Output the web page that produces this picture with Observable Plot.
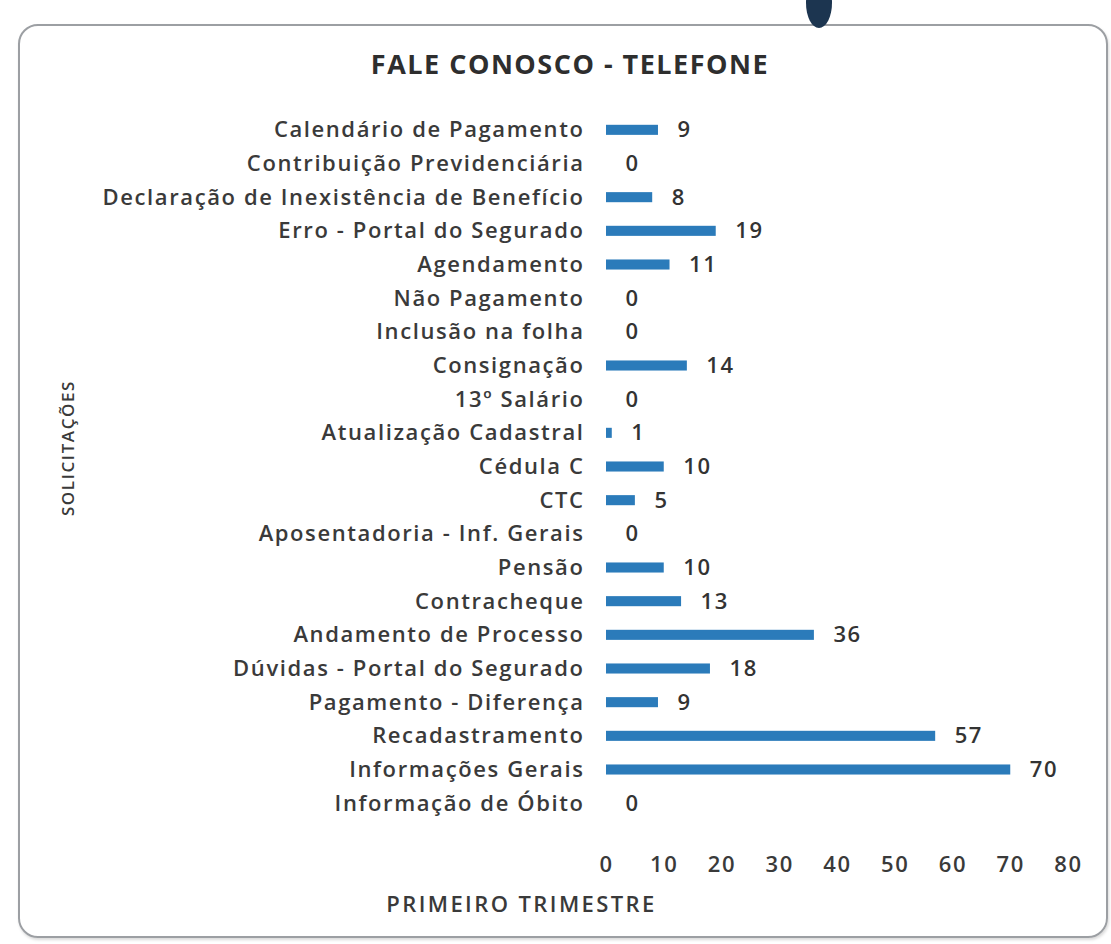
<!DOCTYPE html>
<html>
<head>
<meta charset="utf-8">
<script src="https://cdn.jsdelivr.net/npm/d3@7"></script>
<script src="https://cdn.jsdelivr.net/npm/@observablehq/plot@0.6"></script>
<style>
  html, body { margin: 0; padding: 0; background: #fff; }
  body { width: 1111px; height: 944px; position: relative; overflow: hidden; font-family: "Open Sans", sans-serif; }
  #frame { position: absolute; left: 18px; top: 24px; width: 1086px; height: 910px; border: 2px solid #9c9fa3; border-radius: 20px; box-shadow: 1px 2px 3px rgba(0,0,0,0.15); }
  #logo { position: absolute; left: 806px; top: -22px; width: 26px; height: 50px; background: #1c3550; border-radius: 50%; }
  #title { position: absolute; left: 0; width: 1140px; top: 47px; text-align: center; font-size: 27px; font-weight: bold; color: #2e2e2e; line-height: 34px; letter-spacing: 1.5px; }
  #chart { position: absolute; left: 0; top: 95px; }
  #chart svg text { letter-spacing: 1.6px; font-weight: 600; }
  #chart svg text.xtitle { letter-spacing: 2.4px; }
</style>
</head>
<body>
<div id="frame"></div>
<div id="logo"></div>
<div id="title">FALE CONOSCO - TELEFONE</div>
<div id="chart"></div>
<script>
const categories = [
  "Calendário de Pagamento",
  "Contribuição Previdenciária",
  "Declaração de Inexistência de Benefício",
  "Erro - Portal do Segurado",
  "Agendamento",
  "Não Pagamento",
  "Inclusão na folha",
  "Consignação",
  "13º Salário",
  "Atualização Cadastral",
  "Cédula C",
  "CTC",
  "Aposentadoria - Inf. Gerais",
  "Pensão",
  "Contracheque",
  "Andamento de Processo",
  "Dúvidas - Portal do Segurado",
  "Pagamento - Diferença",
  "Recadastramento",
  "Informações Gerais",
  "Informação de Óbito"
];
const values = [9, 0, 8, 19, 11, 0, 0, 14, 0, 1, 10, 5, 0, 10, 13, 36, 18, 9, 57, 70, 0];
const xTicks = [0, 10, 20, 30, 40, 50, 60, 70, 80];
const xTitle = "PRIMEIRO TRIMESTRE";
const yTitle = "SOLICITAÇÕES";

const data = categories.map((c, i) => ({categoria: c, valor: values[i]}));

const chart = Plot.plot({
  width: 1111,
  height: 849,
  marginTop: 18,
  marginBottom: 124,
  marginLeft: 606,
  marginRight: 43,
  style: {fontFamily: "'Open Sans', sans-serif", fontSize: "22px", color: "#3a3a3a", background: "transparent"},
  x: {domain: [0, 80]},
  y: {domain: categories, padding: 0, round: false},
  marks: [
    Plot.barX(data, {x: "valor", y: "categoria", fill: "#2b7bba", insetTop: 11.8, insetBottom: 11.8}),
    Plot.text(data, {x: "valor", y: "categoria", text: d => String(d.valor), dx: 19, textAnchor: "start", fill: "#333", fontSize: 22}),
    Plot.axisY({tickSize: 0, tickPadding: 22, label: null, fontSize: 22, fill: "#3a3a3a"}),
    Plot.axisX({ticks: xTicks, tickSize: 0, tickPadding: 36, label: null, fontSize: 22, fill: "#3a3a3a"}),
    Plot.text([xTitle], {text: d => d, frameAnchor: "bottom-left", dx: -85, dy: 84, textAnchor: "middle", lineAnchor: "middle", fontSize: 22, fill: "#3a3a3a", className: "xtitle"}),
    Plot.text([yTitle], {text: d => d, frameAnchor: "left", rotate: -90, dx: -538, dy: -19, textAnchor: "middle", lineAnchor: "middle", fontSize: 17, fill: "#3a3a3a"})
  ]
});
chart.querySelectorAll(".xtitle text").forEach(t => t.classList.add("xtitle"));
document.getElementById("chart").appendChild(chart);
</script>
</body>
</html>
